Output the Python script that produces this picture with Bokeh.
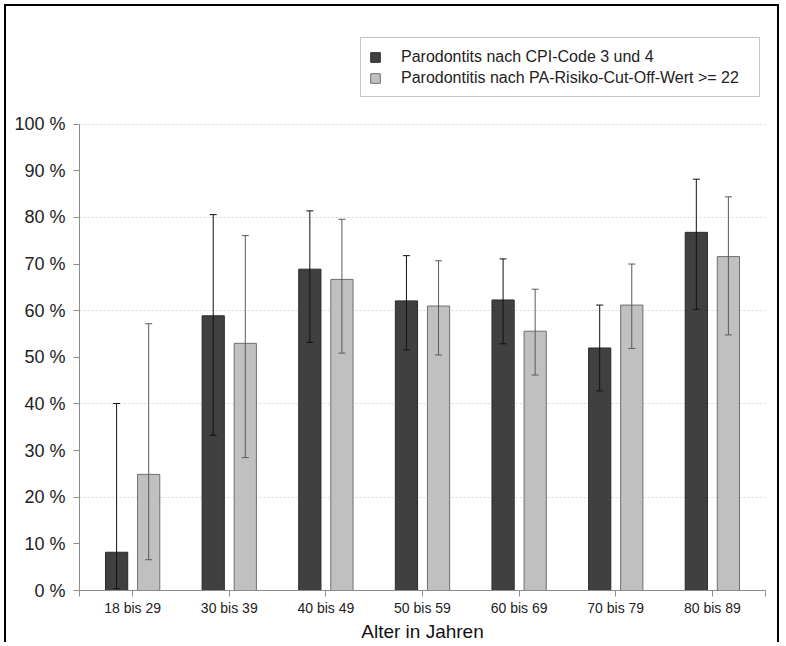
from bokeh.plotting import figure
from bokeh.models import (ColumnDataSource, Range1d, FixedTicker, Whisker, TeeHead,
                          Legend, LegendItem)
from bokeh.transform import dodge
from bokeh.embed import file_html
from bokeh.resources import INLINE

categories = ["18 bis 29", "30 bis 39", "40 bis 49", "50 bis 59", "60 bis 69", "70 bis 79", "80 bis 89"]
cpi_values = [8.2, 58.9, 68.9, 62.1, 62.3, 52.0, 76.8]
cpi_lower = [0.4, 33.3, 53.2, 51.6, 52.9, 42.8, 60.3]
cpi_upper = [40.1, 80.6, 81.4, 71.8, 71.1, 61.2, 88.2]
pa_values = [24.9, 53.0, 66.7, 61.0, 55.6, 61.2, 71.6]
pa_lower = [6.6, 28.5, 50.9, 50.5, 46.2, 51.9, 54.8]
pa_upper = [57.2, 76.1, 79.6, 70.7, 64.6, 70.0, 84.4]
y_ticks = [0, 10, 20, 30, 40, 50, 60, 70, 80, 90, 100]
legend_labels = ["Parodontits nach CPI-Code 3 und 4",
                 "Parodontitis nach PA-Risiko-Cut-Off-Wert >= 22"]
x_label = "Alter in Jahren"

FONT = "Liberation Sans"
idx = list(range(len(categories)))

src = ColumnDataSource(dict(x=idx, cpi=cpi_values, cpi_lo=cpi_lower, cpi_hi=cpi_upper,
                            pa=pa_values, pa_lo=pa_lower, pa_hi=pa_upper))

p = figure(width=775, height=638, output_backend="svg", toolbar_location=None,
           x_range=Range1d(-0.55, len(categories) - 0.45), y_range=Range1d(0, 123.08),
           min_border_left=73, min_border_right=16, min_border_top=10, min_border_bottom=52)
p.styles = {"border-top": "2px solid black", "border-left": "2px solid black",
            "border-right": "2px solid black", "margin-left": "4px", "margin-top": "4px"}
p.outline_line_color = None
p.background_fill_color = "white"
p.border_fill_color = "white"

r1 = p.vbar(x=dodge("x", -0.166), top="cpi", width=0.23, bottom=0, source=src,
            fill_color="#404040", line_color="#2a2a2a", line_width=1)
r2 = p.vbar(x=dodge("x", 0.166), top="pa", width=0.23, bottom=0, source=src,
            fill_color="#c0c0c0", line_color="#6e6e6e", line_width=1)

w1 = Whisker(source=src, base=dodge("x", -0.166), upper="cpi_hi", lower="cpi_lo",
             line_color="#111111", line_width=1, level="annotation",
             upper_head=TeeHead(size=7, line_color="#111111", line_width=1),
             lower_head=TeeHead(size=7, line_color="#111111", line_width=1))
w2 = Whisker(source=src, base=dodge("x", 0.166), upper="pa_hi", lower="pa_lo",
             line_color="#5a5a5a", line_width=1, level="annotation",
             upper_head=TeeHead(size=7, line_color="#5a5a5a", line_width=1),
             lower_head=TeeHead(size=7, line_color="#5a5a5a", line_width=1))
p.add_layout(w1)
p.add_layout(w2)

# axes
xa = p.xaxis[0]
xticks = [-0.55] + idx + [len(categories) - 0.45]
xa.ticker = FixedTicker(ticks=xticks)
ov = {i: c for i, c in enumerate(categories)}
ov[-0.55] = ""
ov[len(categories) - 0.45] = ""
xa.major_label_overrides = ov
xa.axis_label = x_label
xa.axis_label_text_font = FONT
xa.axis_label_text_font_size = "19px"
xa.axis_label_text_font_style = "normal"
xa.axis_label_text_color = "#111111"
xa.axis_label_standoff = 2
xa.major_label_text_font = FONT
xa.major_label_text_font_size = "14px"
xa.major_label_text_color = "#222222"
xa.major_label_standoff = 3
xa.axis_line_color = "#8c8c8c"
xa.major_tick_line_color = "#8c8c8c"
xa.major_tick_out = 6
xa.major_tick_in = 0
xa.minor_tick_line_color = None

ya = p.yaxis[0]
ya.ticker = FixedTicker(ticks=y_ticks)
ya.bounds = (0, 100)
ya.major_label_overrides = {t: f"{t} %" for t in y_ticks}
ya.major_label_text_font = FONT
ya.major_label_text_font_size = "18px"
ya.major_label_text_color = "#222222"
ya.major_label_standoff = 8
ya.axis_line_color = "#8c8c8c"
ya.major_tick_line_color = "#8c8c8c"
ya.major_tick_out = 6
ya.major_tick_in = 0
ya.minor_tick_line_color = None

p.xgrid.grid_line_color = None
p.ygrid.ticker = FixedTicker(ticks=[20, 40, 60, 80, 100])
p.ygrid.grid_line_color = "#d9d9d9"
p.ygrid.grid_line_dash = "2 2"
p.ygrid.grid_line_width = 1

legend = Legend(items=[LegendItem(label=legend_labels[0], renderers=[r1]),
                       LegendItem(label=legend_labels[1], renderers=[r2])],
                location=(281, 493), orientation="vertical",
                padding=8, spacing=0, margin=0,
                glyph_width=12, glyph_height=12, label_height=21,
                label_standoff=20, label_width=350,
                label_text_font=FONT, label_text_font_size="16px",
                label_text_color="#222222",
                border_line_color="#8c8c8c", border_line_width=1,
                background_fill_color="white", background_fill_alpha=1.0)
p.add_layout(legend, "center")

open("out.html", "w").write(file_html(p, INLINE))
